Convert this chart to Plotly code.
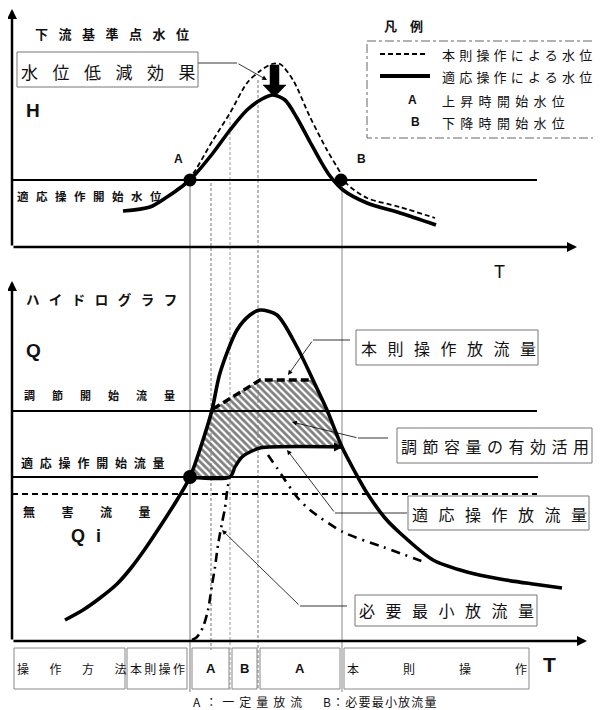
import plotly.graph_objects as go

JP = "Noto Sans CJK JP"
LAT = "Liberation Sans"

# ---------------- data (schematic units: T to the right, level/flow downward in page units) -------------
# upper panel: downstream water level H
T_H_adapt = [123, 150, 167, 180, 190, 213, 230, 247, 262, 273, 285, 297, 310, 320, 330, 343, 367, 400, 436]
H_adapt   = [211, 207, 197, 188, 180, 153, 130, 110, 99, 95, 100, 118, 142, 160, 176, 190, 203, 213, 225]
T_H_rule  = [176, 190, 213, 230, 247, 260, 272, 280, 293, 310, 327, 340, 347, 367, 400, 435]
H_rule    = [190, 178, 140, 113, 83, 71, 64, 64, 80, 117, 150, 172, 184, 198, 207, 218]
H_start_level = 180

# lower panel: hydrograph Q
T_inflow = [65, 83, 100, 117, 131, 145, 163, 177, 190, 203, 212, 220, 237, 250, 260, 277, 297, 313, 327,
            342, 355, 367, 385, 400, 433, 467, 500, 533, 562]
Q_inflow = [620, 610, 598, 584, 568, 549, 522, 500, 477, 440, 410, 373, 330, 315, 310, 315, 347, 380, 410,
            447, 472, 493, 518, 533, 560, 572, 579, 584, 588]
T_rule_out = [213, 260, 312]
Q_rule_out = [409, 380, 380]
T_adapt_out = [190, 230, 235, 242, 250, 260, 342]
Q_adapt_out = [477, 477, 467, 457, 452, 448, 447]
T_min_rise = [192, 197, 203, 208, 212, 215, 218, 222, 225, 227, 229]
Q_min_rise = [640, 637, 627, 610, 585, 567, 545, 523, 508, 492, 480]
T_min_fall = [268, 277, 297, 310, 343, 383, 427]
Q_min_fall = [455, 468, 497, 510, 532, 547, 563]
T_storage = [190, 196, 203, 212, 236, 260, 312, 320, 327, 335, 342, 262, 250, 242, 235, 230, 190]
Q_storage = [477, 460, 440, 410, 394, 380, 380, 395, 410, 428, 447, 447, 451, 457, 467, 477, 477]
Q_regulation_start = 411
Q_adapt_start = 477
Q_harmless = 494

T_A, T_B = 190, 342
T_marks = [211, 230, 258]

# page body margin of the html page (8px) is compensated by the axis ranges
PAGE_OFF = 8

# ---------------- figure -------------
fig = go.Figure()
ann = []
shapes = []

def line(xs, ys, w=1.0, color="#000", dash="solid", spline=False, fill=None, **kw):
    fig.add_trace(go.Scatter(x=xs, y=ys, mode="lines",
                             line=dict(width=w, color=color, dash=dash,
                                       shape="spline" if spline else "linear", smoothing=0.8),
                             hoverinfo="skip", showlegend=False, fill=fill, **kw))

def txt(x, y, s, size, sp=0, bold=False, anchor="left", family=JP, color="#111"):
    if sp == 0 or len(s) < 2:
        t = s
    else:
        t = f"<span style='letter-spacing:{sp}px'>{s[:-1]}</span>{s[-1]}"
    ann.append(dict(x=x, y=y, xref="x", yref="y", text=t, showarrow=False, xanchor=anchor,
                    yanchor="middle", borderpad=0,
                    font=dict(size=size, family=family, color=color,
                              weight="bold" if bold else "normal")))

def arrow(x0, y0, x1, y1, w=1.0, head=2, size=1.0, color="#000"):
    ann.append(dict(x=x1, y=y1, ax=x0, ay=y0, xref="x", yref="y", axref="x", ayref="y",
                    text="", showarrow=True, arrowhead=head, arrowsize=size, arrowwidth=w,
                    arrowcolor=color, standoff=0, startstandoff=0))

def box(x0, y0, x1, y1, color="#777", dash="solid", w=1):
    shapes.append(dict(type="rect", xref="x", yref="y", x0=x0, y0=y0, x1=x1, y1=y1,
                       line=dict(color=color, width=w, dash=dash), fillcolor="rgba(0,0,0,0)"))

# hatched storage area
fig.add_trace(go.Scatter(x=T_storage, y=Q_storage, mode="lines", fill="toself",
                         line=dict(width=0, color="rgba(0,0,0,0)"),
                         fillcolor="white",
                         fillpattern=dict(shape="\\", size=5, solidity=0.55, fgcolor="#000", bgcolor="white"),
                         hoverinfo="skip", showlegend=False))

# vertical reference lines
line([T_A, T_A], [180, 692], 1, "#777")
line([T_B, T_B], [180, 692], 1, "#888")
line([T_marks[0]] * 2, [183, 650], 1, "#777", "3px,2px")
line([T_marks[1]] * 2, [117, 690], 1, "#999", "3px,2px")
line([T_marks[2]] * 2, [80, 690], 1, "#777", "3px,2px")

# axes
arrow(12, 247, 12, 9, w=2.5, head=2, size=0.8)
arrow(12, 247, 577, 247, w=2.5, head=2, size=0.8)
arrow(12, 641, 12, 281, w=2.5, head=2, size=0.8)
arrow(12, 641, 587, 641, w=2.5, head=2, size=0.8)

# top panel lines
line([12, 537], [H_start_level] * 2, 2.2)
line(T_H_rule, H_rule, 1.8, "#000", "5px,3px", spline=True)
line(T_H_adapt, H_adapt, 3.6, "#000", spline=True)

# bottom horizontal lines
line([12, 537], [Q_regulation_start] * 2, 2.0)
line([12, 538], [Q_adapt_start] * 2, 2.2)
line([12, 537], [Q_harmless] * 2, 1.8, "#000", "6px,4px")

# bottom curves
line(T_inflow, Q_inflow, 3.6, "#000", spline=True)
line(T_rule_out, Q_rule_out, 3.4, "#000", "8px,4px")
line(T_adapt_out, Q_adapt_out, 3.4, "#000", spline=True)
arrow(330, 447, 343, 447, w=1.5, head=2, size=1.2)
line(T_min_rise, Q_min_rise, 2.6, "#000", "9px,5px,2px,5px", spline=True)
line(T_min_fall, Q_min_fall, 2.6, "#000", "9px,6px,2px,6px", spline=True)

# points A and B
fig.add_trace(go.Scatter(x=[T_A, 341, T_A], y=[H_start_level, H_start_level, Q_adapt_start], mode="markers",
                         marker=dict(size=[13, 13, 14], color="#000", opacity=1, line=dict(width=0)),
                         hoverinfo="skip", showlegend=False))

# thick "water level reduction" arrow
ARW_X = [270, 279, 279, 286, 274.5, 263, 270, 270]
ARW_Y = [65, 65, 85, 85, 97, 85, 85, 65]
fig.add_trace(go.Scatter(x=ARW_X, y=ARW_Y, mode="lines", fill="toself", fillcolor="#000",
                         line=dict(width=0.5, color="#000"), hoverinfo="skip", showlegend=False))

# ---------------- texts upper panel -------------
txt(34, 33, "下流基準点水位", 13, sp=10.5, bold=True)
box(17, 52, 198, 87)
txt(20, 71, "水位低減効果", 17, sp=14.5)
line([198, 237], [63, 63], 0.8)
arrow(237, 63, 267, 80, w=0.8, head=2, size=1.2)
txt(25, 110, "H", 19, bold=True, family=LAT)
txt(173, 159, "A", 12, bold=True, family=LAT)
txt(356, 159, "B", 12, bold=True, family=LAT)
txt(16, 196, "適応操作開始水位", 11.5, sp=7.5, bold=True)
txt(493, 272, "T", 18, family=LAT)

# legend
txt(383, 25, "凡 例", 13, sp=5, bold=True)
box(367, 41, 600, 138, color="#666", dash="dashdot")
line([380, 428], [54, 54], 2.0, "#000", "5px,3px")
line([380, 430], [76, 76], 3.8)
txt(441, 54, "本則操作による水位", 13, sp=4.2)
txt(441, 76, "適応操作による水位", 13, sp=4.2)
txt(407, 100, "A", 12, bold=True, family=LAT)
txt(410, 122, "B", 12, bold=True, family=LAT)
txt(441, 100, "上昇時開始水位", 13, sp=5.3)
txt(441, 122, "下降時開始水位", 13, sp=5.3)

# ---------------- texts lower panel -------------
txt(25, 299, "ハイドログラフ", 13.5, sp=9.5, bold=True)
txt(25, 350, "Q", 19, bold=True, family=LAT)
txt(23, 395, "調節開始流量", 11, sp=17, bold=True)
txt(20, 462, "適応操作開始流量", 12, sp=6.8, bold=True)
txt(22, 511, "無害流量", 12, sp=26.5, bold=True)
txt(70, 536, "Q i", 18, sp=3, bold=True, family=LAT)

box(356, 330, 538, 365)
txt(360, 348, "本則操作放流量", 16, sp=10.5)
line([350, 313], [340, 340], 0.8)
arrow(313, 340, 288, 375, w=0.8, head=2, size=1.2)

box(397, 428, 592, 463)
txt(400, 446, "調節容量の有効活用", 16, sp=5.5)
line([388, 358], [438, 438], 0.8)
arrow(358, 438, 292, 422, w=0.8, head=2, size=1.2)

box(408, 496, 589, 530)
txt(411, 514, "適応操作放流量", 16, sp=10.5)
line([407, 335], [513, 513], 0.8)
arrow(335, 513, 287, 450, w=0.8, head=2, size=1.2)

box(355, 595, 537, 626)
txt(358, 610, "必要最小放流量", 16, sp=10.5)
line([347, 300], [606, 606], 0.8)
arrow(300, 606, 222, 530, w=0.8, head=2, size=1.2)

# operation row
box(14, 648, 125, 689, color="#888")
txt(16, 668, "操作方法", 12, sp=20.5)
box(127, 648, 187, 689, color="#888")
txt(129, 668, "本則操作", 12, sp=2.3)
box(192, 648, 229, 689, color="#888")
txt(210.5, 668, "A", 13, bold=True, anchor="center", family=LAT)
box(232, 648, 257, 689, color="#888")
txt(244.5, 668, "B", 13, bold=True, anchor="center", family=LAT)
box(260, 648, 340, 689, color="#888")
txt(300, 668, "A", 13, bold=True, anchor="center", family=LAT)
box(344, 648, 529, 689, color="#888")
txt(346, 668, "本則操作", 12, sp=44)
txt(542, 664, "T", 21, bold=True, family=LAT)
txt(192, 701, "A：一定量放流", 12, sp=5)
txt(322, 701, "B：必要最小放流量", 12, sp=1.2)

fig.update_layout(
    width=601 - PAGE_OFF, height=710 - PAGE_OFF, margin=dict(l=0, r=0, t=0, b=0),
    paper_bgcolor="white", plot_bgcolor="white",
    xaxis=dict(range=[PAGE_OFF, 601], visible=False, fixedrange=True),
    yaxis=dict(range=[710, PAGE_OFF], visible=False, fixedrange=True),
    annotations=ann, shapes=shapes, showlegend=False,
)
fig.write_html("out.html")
